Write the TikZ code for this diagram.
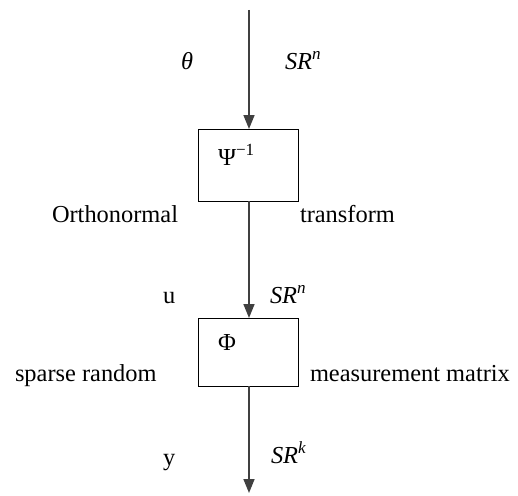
\documentclass[tikz,border=0pt]{standalone}
\usepackage{fontspec}
\setmainfont{Liberation Serif}
\usetikzlibrary{arrows.meta}
\begin{document}
\begin{tikzpicture}[x=1pt,y=-1pt,
  every node/.style={inner sep=0pt,outer sep=0pt,font=\fontsize{24.4}{28}\selectfont},
  blk/.style={draw=black,line width=1pt,minimum width=100pt,inner sep=0pt},
  conn/.style={draw=black!75,line width=1.6pt,-{Triangle[length=14pt,width=11pt]}},
  lbl/.style={anchor=base west}]
\useasboundingbox (0,0) rectangle (518,495);
\coordinate (top) at (249,10);
\coordinate (bot) at (249,493);
\node[blk,minimum height=72pt] (psi) at (248,165) {};
\node[blk,minimum height=68pt] (phi) at (248,352) {};
\draw[conn] (top) -- (psi.north -| top);
\draw[conn] (psi.south -| top) -- (phi.north -| top);
\draw[conn] (phi.south -| top) -- (bot);
\node[lbl] (theta) at (181,69) {\textit{θ}};
\node[lbl] (sr1) at (285,69) {\textit{SR}\textsuperscript{\textit{n}}};
\node[lbl] (psil) at (218,165) {Ψ\textsuperscript{−1}};
\node[lbl] (orth) at (52,222) {Orthonormal};
\node[lbl] (trans) at (300,222) {transform};
\node[lbl] (u) at (163,303) {u};
\node[lbl] (sr2) at (270,303) {\textit{SR}\textsuperscript{\textit{n}}};
\node[lbl] (phil) at (218,350) {Φ};
\node[lbl] (sparse) at (15,381) {sparse random};
\node[lbl] (meas) at (310,381) {measurement matrix};
\node[lbl] (yl) at (163,465) {y};
\node[lbl] (sr3) at (271,463) {\textit{SR}\textsuperscript{\textit{k}}};
\end{tikzpicture}
\end{document}
